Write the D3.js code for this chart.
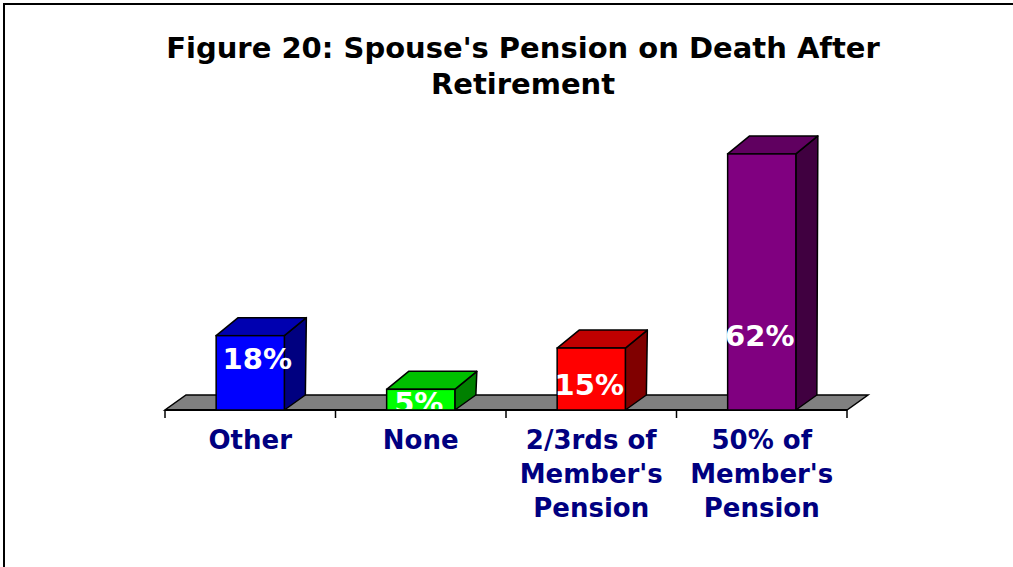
<!DOCTYPE html>
<html>
<head>
<meta charset="utf-8">
<script src="https://cdn.jsdelivr.net/npm/d3@7"></script>
<style>
  body { margin: 0; background: #fff; }
  svg { display: block; font-family: "DejaVu Sans", Verdana, sans-serif; }
</style>
</head>
<body>
<svg id="chart" width="1013" height="567"></svg>
<script>
// chart data
var categories = ["Other", "None", "2/3rds of Member's Pension", "50% of Member's Pension"];
var tickLines = [["Other"], ["None"], ["2/3rds of", "Member's", "Pension"], ["50% of", "Member's", "Pension"]];
var values = [18, 5, 15, 62];
var valueLabels = ["18%", "5%", "15%", "62%"];
var titleLines = ["Figure 20: Spouse's Pension on Death After", "Retirement"];

/* bar colours: front, top, side */
var frontColors = ["#0000ff", "#00ff00", "#ff0000", "#800080"];
var topColors = ["#0000b0", "#00c000", "#c00000", "#600060"];
var sideColors = ["#000080", "#008000", "#800000", "#400040"];

// where excel put each value label (in value units above the floor)
var labelAt = [10, -0.7, 3.7, 15.4];

var svg = d3.select("#chart");

var floorY = 410;
var x = d3.scaleBand().domain(categories).range([165, 847]).padding(0);
var y = d3.scaleLinear().domain([0, 70]).range([floorY, floorY - 70 * 4.13]);

var depth = { dx: 22, dy: -18 };
var floorDepth = { dx: 21, dy: -15 };
var barW = x.bandwidth() * 0.4;

// outer frame
svg.append("path")
    .attr("d", "M4,570 L4,4 L1020,4")
    .attr("fill", "none")
    .attr("stroke", "black")
    .attr("stroke-width", 2);

// title
svg.append("text")
    .attr("text-anchor", "middle")
    .attr("font-weight", "bold")
    .attr("font-size", 29)
    .attr("fill", "black")
    .selectAll("tspan")
    .data(titleLines)
    .join("tspan")
    .attr("x", 523)
    .attr("y", function(d, i) { return 58 + i * 36; })
    .text(function(d) { return d; });

// floor
var x0 = x.range()[0], x1 = x.range()[1];
svg.append("polygon")
    .attr("points", [
        [x0, floorY], [x1, floorY],
        [x1 + floorDepth.dx, floorY + floorDepth.dy],
        [x0 + floorDepth.dx, floorY + floorDepth.dy]
    ].map(p => p.join(",")).join(" "))
    .attr("fill", "#808080")
    .attr("stroke", "black")
    .attr("stroke-width", 1.5);

// axis line and ticks at the band edges
svg.append("line")
    .attr("x1", x0).attr("x2", x1)
    .attr("y1", floorY).attr("y2", floorY)
    .attr("stroke", "black").attr("stroke-width", 2);

var edges = categories.map(c => x(c)).concat([x1]);
svg.selectAll(".tick")
    .data(edges)
    .join("line")
    .attr("class", "tick")
    .attr("x1", d => d).attr("x2", d => d)
    .attr("y1", floorY).attr("y2", floorY + 8)
    .attr("stroke", "black").attr("stroke-width", 1.5);

// bars
var bars = svg.selectAll(".bar")
    .data(values)
    .join("g")
    .attr("class", "bar");

function pts(arr) {
    return arr.map(p => p.join(",")).join(" ");
}

bars.append("polygon")
    .attr("points", function(d, i) {
        var left = x(categories[i]) + (x.bandwidth() - barW) / 2;
        var right = left + barW;
        var top = y(d);
        return pts([[right, floorY], [right, top],
            [right + depth.dx, top + depth.dy],
            [right + floorDepth.dx, floorY + floorDepth.dy]]);
    })
    .attr("fill", (d, i) => sideColors[i])
    .attr("stroke", "black").attr("stroke-width", 1.5)
    .attr("stroke-linejoin", "round");

bars.append("polygon")
    .attr("points", function(d, i) {
        var left = x(categories[i]) + (x.bandwidth() - barW) / 2;
        var right = left + barW;
        var top = y(d);
        return pts([[left, top], [right, top],
            [right + depth.dx, top + depth.dy],
            [left + depth.dx, top + depth.dy]]);
    })
    .attr("fill", (d, i) => topColors[i])
    .attr("stroke", "black").attr("stroke-width", 1.5)
    .attr("stroke-linejoin", "round");

bars.append("rect")
    .attr("x", (d, i) => x(categories[i]) + (x.bandwidth() - barW) / 2)
    .attr("y", d => y(d))
    .attr("width", barW)
    .attr("height", d => floorY - y(d))
    .attr("fill", (d, i) => frontColors[i])
    .attr("stroke", "black").attr("stroke-width", 1.5);

// value labels (clipped at the floor edge like the original)
svg.append("clipPath")
    .attr("id", "above-floor")
    .append("rect")
    .attr("x", 0).attr("y", 0)
    .attr("width", 1013).attr("height", floorY - 1);

svg.append("g")
    .attr("clip-path", "url(#above-floor)")
    .selectAll("text")
    .data(valueLabels)
    .join("text")
    .attr("x", (d, i) => x(categories[i]) + x.bandwidth() / 2 + (i == 0 ? 7 : -2))
    .attr("y", (d, i) => y(labelAt[i]))
    .attr("text-anchor", "middle")
    .attr("font-weight", "bold")
    .attr("font-size", 29)
    .attr("fill", "white")
    .text(d => d);

// category labels
svg.selectAll(".cat")
    .data(tickLines)
    .join("text")
    .attr("class", "cat")
    .attr("text-anchor", "middle")
    .attr("font-weight", "bold")
    .attr("font-size", 26)
    .attr("fill", "#000080")
    .each(function(lines, i) {
        d3.select(this).selectAll("tspan")
            .data(lines)
            .join("tspan")
            .attr("x", x(categories[i]) + x.bandwidth() / 2)
            .attr("y", (d, j) => 449 + j * 34)
            .text(d => d);
    });
</script>
</body>
</html>
